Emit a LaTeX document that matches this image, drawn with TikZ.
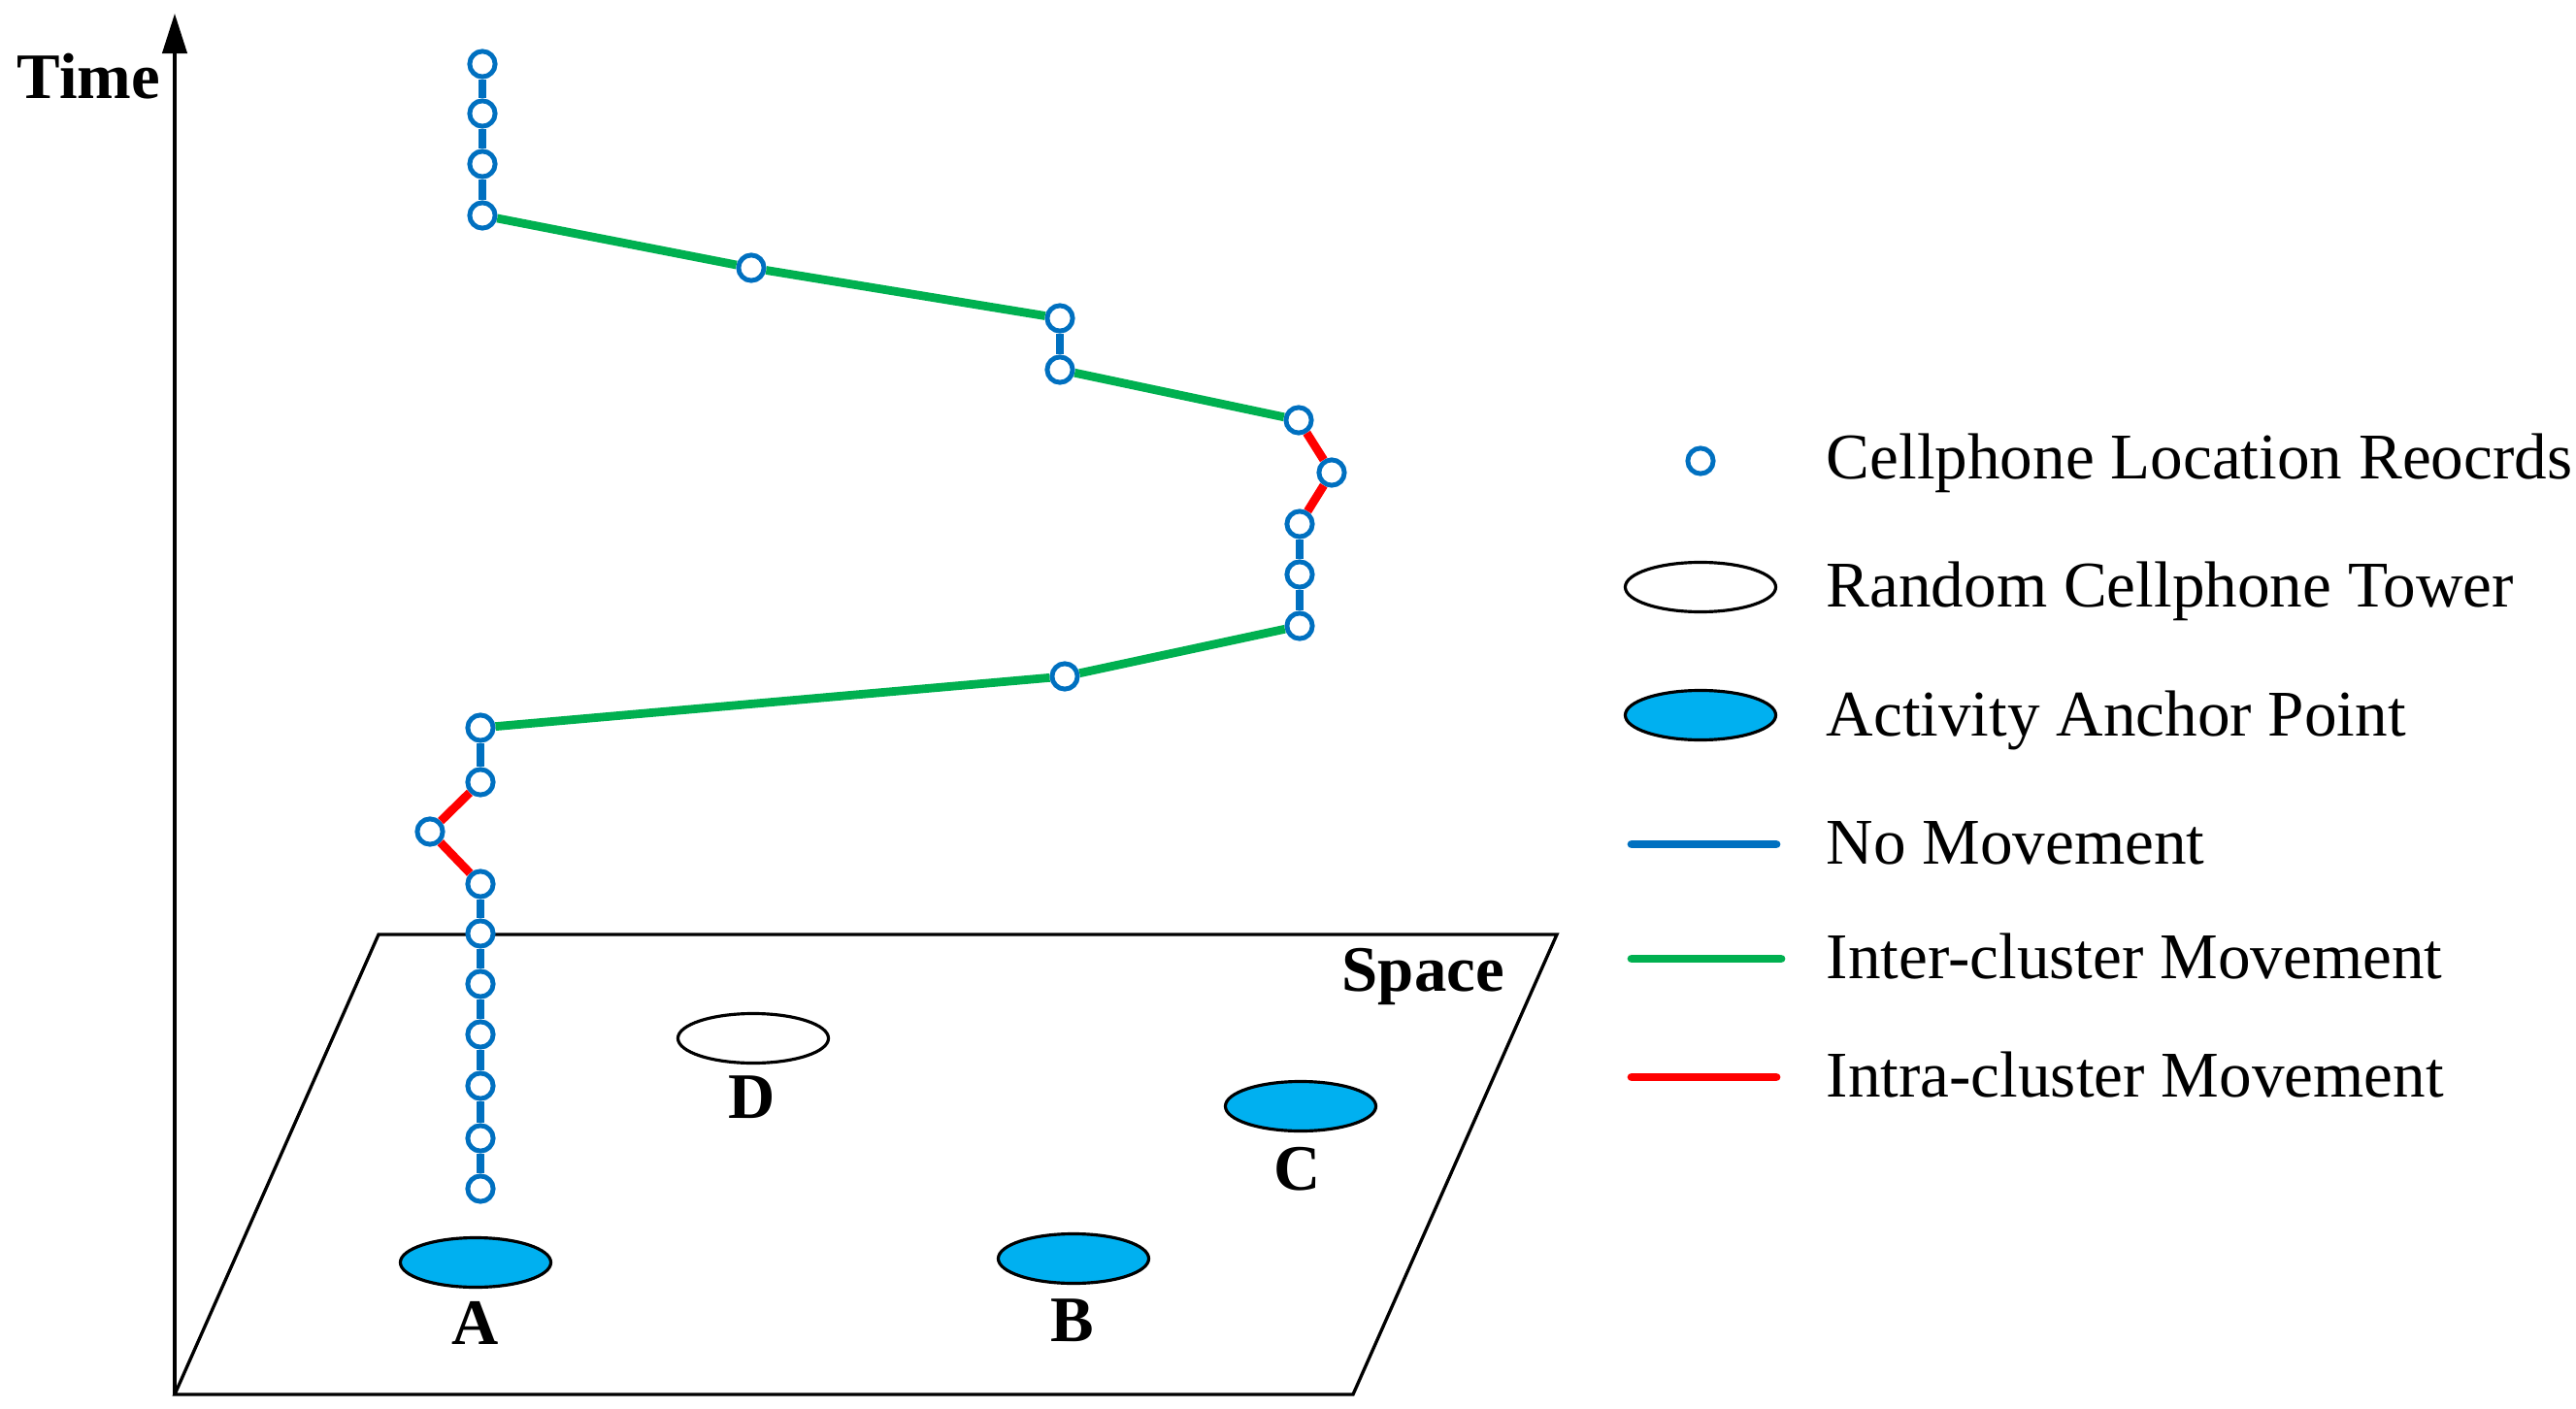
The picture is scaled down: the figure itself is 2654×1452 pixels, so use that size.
\documentclass[tikz,border=0pt]{standalone}
\usepackage{fontspec}
\setmainfont{Liberation Serif}
\usetikzlibrary{arrows.meta,shapes.geometric}
\definecolor{recblue}{HTML}{0070C0}
\definecolor{mvgreen}{HTML}{00B050}
\definecolor{mvred}{HTML}{FF0000}
\definecolor{anchorblue}{HTML}{00B0F0}
\begin{document}
\begin{tikzpicture}[x=0.01cm,y=-0.01cm,
  rec/.style={circle,draw=recblue,fill=white,line width=1.4pt,minimum size=0.262cm,inner sep=0pt},
  still/.style={draw=recblue,line width=2.5pt},
  inter/.style={draw=mvgreen,line width=2.5pt},
  intra/.style={draw=mvred,line width=2.5pt},
  tower/.style={ellipse,draw=black,fill=white,line width=0.9pt,minimum width=1.55cm,minimum height=0.51cm,inner sep=0pt},
  anchorpt/.style={tower,fill=anchorblue},
  lbl/.style={font=\fontsize{19}{23}\selectfont\bfseries,inner sep=0pt,anchor=base},
  legtxt/.style={font=\fontsize{19.1}{23}\selectfont,anchor=base west,inner sep=0pt},
  frame/.style={draw=black,line width=0.95pt},
]
\useasboundingbox (0,0) rectangle (2654,1452);

% plane and axis
\coordinate (o) at (180,1437);
\coordinate (br) at (1394,1437);
\coordinate (tr) at (1604,963);
\coordinate (tl) at (390,963);
\coordinate (top) at (180,14);
\draw[frame,line join=miter] (o) -- (br) -- (tr) -- (tl) -- cycle;
\draw[frame,-{Triangle[width=7.2pt,length=11.7pt]}] (o) -- (top);
\node[font=\fontsize{19}{23}\selectfont\bfseries,anchor=base west,inner sep=0pt] (time) at (17,102) {Time};
\node[font=\fontsize{19}{23}\selectfont\bfseries,anchor=base west,inner sep=0pt] (space) at (1382,1021) {Space};

% towers
\node[anchorpt] (A) at (490,1301) {};
\node[anchorpt] (B) at (1106,1297) {};
\node[anchorpt] (C) at (1340,1140) {};
\node[tower] (D) at (776,1070) {};
\node[lbl] (la) at (490,1385) {A};
\node[lbl] (lb) at (1105,1382) {B};
\node[lbl] (lc) at (1337,1226) {C};
\node[lbl] (ld) at (775,1152) {D};

% records
\node[rec] (p1) at (497,66) {};
\node[rec] (p2) at (497,117) {};
\node[rec] (p3) at (497,169) {};
\node[rec] (p4) at (497,222) {};
\node[rec] (p5) at (774,276) {};
\node[rec] (p6) at (1092,328) {};
\node[rec] (p7) at (1092,381) {};
\node[rec] (p8) at (1338,433) {};
\node[rec] (p9) at (1372,487) {};
\node[rec] (p10) at (1339,540) {};
\node[rec] (p11) at (1339,592) {};
\node[rec] (p12) at (1339,645) {};
\node[rec] (p13) at (1097,697) {};
\node[rec] (p14) at (495,750) {};
\node[rec] (p15) at (495,806) {};
\node[rec] (p16) at (443,857) {};
\node[rec] (p17) at (495,911) {};
\node[rec] (p18) at (495,962) {};
\node[rec] (p19) at (495,1014) {};
\node[rec] (p20) at (495,1066) {};
\node[rec] (p21) at (495,1119) {};
\node[rec] (p22) at (495,1173) {};
\node[rec] (p23) at (495,1225) {};

\draw[still] (p1) -- (p2);
\draw[still] (p2) -- (p3);
\draw[still] (p3) -- (p4);
\draw[inter] (p4) -- (p5);
\draw[inter] (p5) -- (p6);
\draw[still] (p6) -- (p7);
\draw[inter] (p7) -- (p8);
\draw[intra] (p8) -- (p9);
\draw[intra] (p9) -- (p10);
\draw[still] (p10) -- (p11);
\draw[still] (p11) -- (p12);
\draw[inter] (p12) -- (p13);
\draw[inter] (p13) -- (p14);
\draw[still] (p14) -- (p15);
\draw[intra] (p15) -- (p16);
\draw[intra] (p16) -- (p17);
\draw[still] (p17) -- (p18);
\draw[still] (p18) -- (p19);
\draw[still] (p19) -- (p20);
\draw[still] (p20) -- (p21);
\draw[still] (p21) -- (p22);
\draw[still] (p22) -- (p23);

% legend
\node[rec] (k1) at (1752,475) {};
\node[tower] (k2) at (1752,605) {};
\node[anchorpt] (k3) at (1752,737) {};
\coordinate (k4a) at (1681,870);
\coordinate (k4b) at (1830,870);
\coordinate (k5a) at (1681,988);
\coordinate (k5b) at (1835,988);
\coordinate (k6a) at (1681,1110);
\coordinate (k6b) at (1830,1110);
\draw[still,line cap=round] (k4a) -- (k4b);
\draw[inter,line cap=round] (k5a) -- (k5b);
\draw[intra,line cap=round] (k6a) -- (k6b);
\node[legtxt] (t1) at (1881,494) {Cellphone Location Reocrds};
\node[legtxt] (t2) at (1881,626) {Random Cellphone Tower};
\node[legtxt] (t3) at (1881,758) {Activity Anchor Point};
\node[legtxt] (t4) at (1881,890) {No Movement};
\node[legtxt] (t5) at (1881,1008) {Inter-cluster Movement};
\node[legtxt] (t6) at (1881,1130) {Intra-cluster Movement};
\end{tikzpicture}
\end{document}
